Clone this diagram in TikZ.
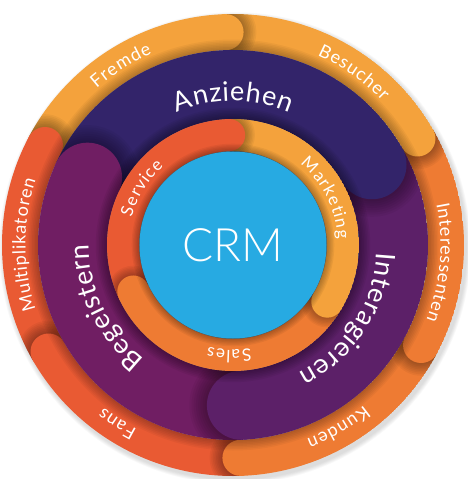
\documentclass[tikz,border=0pt]{standalone}
\usepackage{fontspec}
\setmainfont{Lato}
\IfFontExistsTF{Lato Light}{\newfontfamily\crmfont{Lato Light}}{\newfontfamily\crmfont{Lato}}
\usepackage{tikz}
\usetikzlibrary{decorations.text}
\definecolor{crmblue}{HTML}{27AAE2}
\definecolor{flylight}{HTML}{F4A23C}
\definecolor{flymid}{HTML}{EE7B33}
\definecolor{flyred}{HTML}{E95A33}
\definecolor{flynavy}{HTML}{33246A}
\definecolor{flyplum}{HTML}{5C2068}
\definecolor{flyberry}{HTML}{701E63}
\tikzset{
  ring_label/.style = {decorate, decoration={text along path, text align=center}},
  outer_label/.style = {ring_label, decoration={raise=18.5pt,
    text={|\color{white}\fontsize{18}{18}\selectfont|#1}}},
  middle_label/.style = {ring_label, decoration={raise=7pt,
    text={|\color{white}\fontsize{27}{27}\selectfont|#1}}},
  inner_label/.style = {ring_label, decoration={raise=14pt,
    text={|\color{white}\fontsize{17}{17}\selectfont|#1}}},
  cap_shadow/.style = {black, opacity=0.045},
  crm_node/.style = {circle, fill=crmblue, minimum size=187pt, inner sep=0pt,
    text=white, font=\crmfont\fontsize{46}{46}\selectfont}
}

\begin{document}
\begin{tikzpicture}[x=1pt, y=1pt]
  \useasboundingbox (-233,-234) rectangle (234,245);
  \foreach \k in {1,...,6}
    \fill[black, opacity=0.025] (2,-3) circle (231+\k*0.8);
  % outer ring
  \begin{scope}
    \clip (0,0) circle (231);
    \foreach \s/\e/\c in {152/92/flylight, 92/30/flylight, 30/-28/flymid,
      -28/-88/flymid, -88/-150/flyred, 210/152/flyred}
      \draw[line width=36pt, \c] (\s:213) arc[start angle=\s, end angle=\e, radius=213];
    \foreach \e in {92,30,-28,-88,-150,152} {
      \begin{scope}
        \clip (0,0) -- (\e:300) arc[start angle=\e, end angle=\e-50, radius=300] -- cycle;
        \foreach \k in {1,...,8}
          \fill[cap_shadow] (\e:213) circle (18+\k*1.6);
      \end{scope}
    }
    \foreach \e/\c in {92/flylight, 30/flylight, -28/flymid, -88/flymid,
      -150/flyred, 152/flyred}
      \fill[\c] (\e:213) circle (18);
    \foreach \k in {1,...,7}
      \fill[black, opacity=0.04] (0,0) circle (195+\k*1.5);
    \foreach \a/\t in {122/Fremde, 55/Besucher, -5/Interessenten,
      -60/Kunden, -123/Fans, 180/Multiplikatoren}
      \path[outer_label=\t] (\a+50:189) arc[start angle=\a+50, end angle=\a-50, radius=189];
  \end{scope}
  % middle ring
  \begin{scope}
    \clip (0,0) circle (195);
    \foreach \s/\e/\c in {155/30/flynavy, 30/-87/flyplum, -87/-205/flyberry}
      \draw[line width=69pt, \c] (\s:160.5) arc[start angle=\s, end angle=\e, radius=160.5];
    \foreach \e in {30,-87,-205} {
      \begin{scope}
        \clip (0,0) -- (\e:300) arc[start angle=\e, end angle=\e-60, radius=300] -- cycle;
        \foreach \k in {1,...,8}
          \fill[cap_shadow] (\e:160.5) circle (34.5+\k*2.2);
      \end{scope}
    }
    \foreach \e/\c in {30/flynavy, -87/flyplum, -205/flyberry}
      \fill[\c] (\e:160.5) circle (34.5);
    \foreach \k in {1,...,7}
      \fill[black, opacity=0.05] (0,0) circle (126+\k*1.6);
    \foreach \a/\t in {90/Anziehen, -33/Interagieren, 206/Begeistern}
      \path[middle_label=\t] (\a+65:137) arc[start angle=\a+65, end angle=\a-65, radius=137];
  \end{scope}
  % inner ring
  \begin{scope}
    \clip (0,0) circle (126);
    \foreach \s/\e/\c in {205/92/flyred, 92/-31/flylight, -31/-155/flymid}
      \draw[line width=32pt, \c] (\s:110) arc[start angle=\s, end angle=\e, radius=110];
    \foreach \e in {92,-31,-155} {
      \begin{scope}
        \clip (0,0) -- (\e:300) arc[start angle=\e, end angle=\e-50, radius=300] -- cycle;
        \foreach \k in {1,...,7}
          \fill[cap_shadow] (\e:110) circle (16+\k*1.4);
      \end{scope}
    }
    \foreach \e/\c in {92/flyred, -31/flylight, -155/flymid}
      \fill[\c] (\e:110) circle (16);
    \foreach \k in {1,...,6}
      \fill[black, opacity=0.05] (0,0) circle (93.5+\k*1.3);
    \foreach \a/\t in {148/Service, 27/Marketing, -92/Sales}
      \path[inner_label=\t] (\a+75:91) arc[start angle=\a+75, end angle=\a-75, radius=91];
  \end{scope}
  \node[crm_node] (crm) at (0,0) {CRM};
\end{tikzpicture}
\end{document}
